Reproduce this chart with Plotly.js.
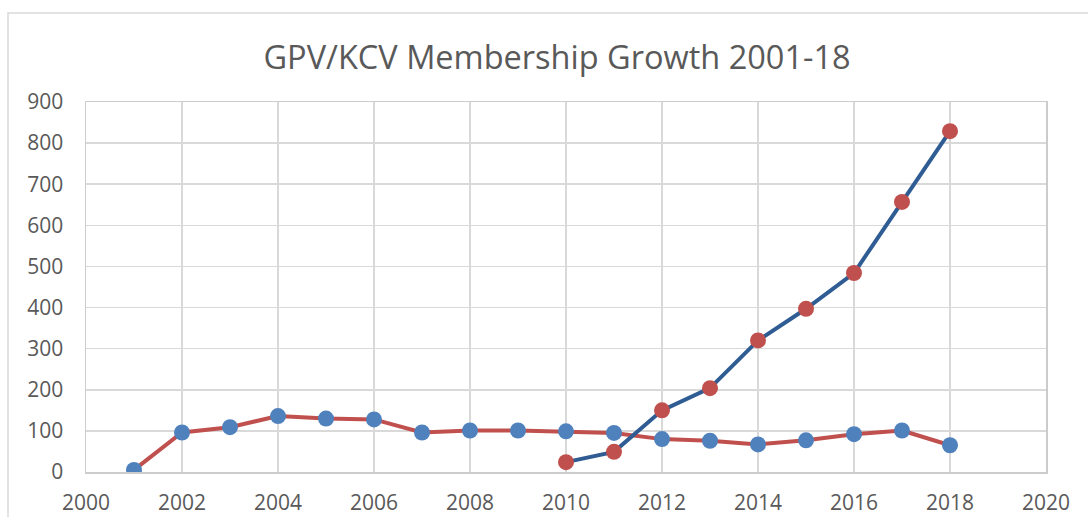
<!DOCTYPE html>
<html>
<head>
<meta charset="utf-8">
<script src="https://cdn.plot.ly/plotly-3.0.1.min.js"></script>
<style>html,body{margin:0;padding:0;background:#fff;}#chart{width:1088px;height:517px;}</style>
</head>
<body>
<div id="chart"></div>
<script>
const yearsA = [2001,2002,2003,2004,2005,2006,2007,2008,2009,2010,2011,2012,2013,2014,2015,2016,2017,2018];
const valuesA = [5,96,109,136,130,128,96,101,101,99,95,80,76,67,77,92,101,65];
const yearsB = [2010,2011,2012,2013,2014,2015,2016,2017,2018];
const valuesB = [24,49,150,204,320,397,484,657,829];
const xTicks = [2000,2002,2004,2006,2008,2010,2012,2014,2016,2018,2020];
const yTicks = [0,100,200,300,400,500,600,700,800,900];
const titleText = "GPV/KCV Membership Growth 2001-18";

const traces = [
  {x: yearsA, y: valuesA, mode: 'lines+markers', name: 'A',
   line: {color: '#C0504D', width: 4},
   marker: {color: '#4F81BD', size: 16}},
  {x: yearsB, y: valuesB, mode: 'lines+markers', name: 'B',
   line: {color: '#2E5C93', width: 4},
   marker: {color: '#C0504D', size: 16}}
];

const gridc = '#D9D9D9';
const tickFont = {family: 'Open Sans, sans-serif', size: 21, color: '#595959'};
const layout = {
  width: 1088, height: 517,
  margin: {l: 86, r: 42, t: 102, b: 45},
  paper_bgcolor: '#fff', plot_bgcolor: '#fff',
  showlegend: false,
  font: {family: 'Open Sans, sans-serif', color: '#595959', size: 21},
  title: {text: titleText, x: 0.512, xanchor: 'center', y: 0.888, yanchor: 'middle',
          font: {family: 'Open Sans, sans-serif', size: 32.5, color: '#595959'}},
  xaxis: {range: [2000, 2020], tickmode: 'array', tickvals: xTicks, ticktext: xTicks.map(String),
          showgrid: true, gridcolor: gridc, gridwidth: 1.5,
          showline: true, linecolor: '#CCCCCC', linewidth: 1.5, mirror: true,
          zeroline: false, ticks: 'outside', ticklen: 11, tickcolor: 'rgba(0,0,0,0)', fixedrange: true,
          tickfont: tickFont, automargin: false},
  yaxis: {range: [0, 900], tickmode: 'array', tickvals: yTicks, ticktext: yTicks.map(String),
          showgrid: true, gridcolor: gridc, gridwidth: 1.5,
          showline: true, linecolor: '#CCCCCC', linewidth: 1.5, mirror: true,
          zeroline: false, ticks: 'outside', ticklen: 17, tickcolor: 'rgba(0,0,0,0)',
          fixedrange: true, tickfont: tickFont, automargin: false},
  shapes: [
    {type: 'rect', xref: 'paper', yref: 'paper',
     x0: (8-86)/960, x1: 1.2, y0: -0.4, y1: 1 + (102-13)/370,
     line: {color: '#D9D9D9', width: 1.5}, fillcolor: 'rgba(0,0,0,0)', layer: 'below'}
  ]
};

Plotly.newPlot('chart', traces, layout, {displayModeBar: false, staticPlot: true});
</script>
</body>
</html>
